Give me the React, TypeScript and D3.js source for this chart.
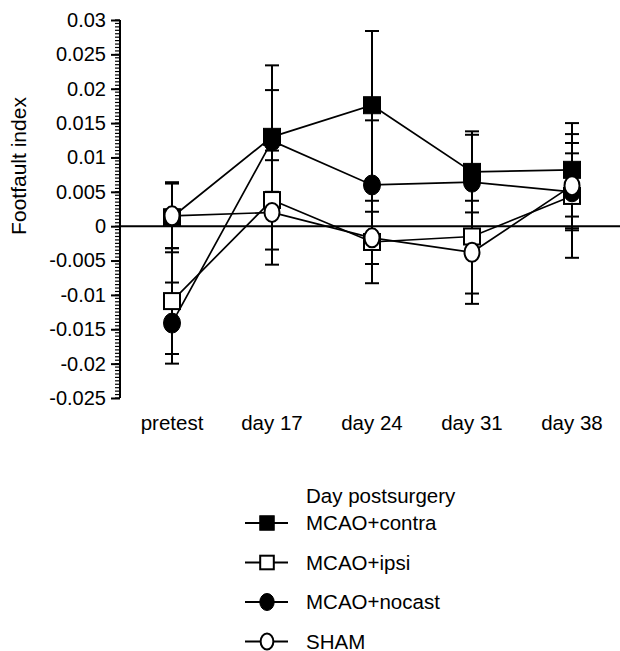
import React, { useEffect, useRef } from "react";
import * as d3 from "d3";

const days = ["pretest", "day 17", "day 24", "day 31", "day 38"];

const contraMean = [0.0013, 0.013, 0.0176, 0.0079, 0.0082];
const contraErr = [0.0051, 0.0104, 0.0108, 0.0059, 0.0068];
const ipsiMean = [-0.0109, 0.0038, -0.0023, -0.0015, 0.0044];
const ipsiErr = [0.0077, 0.0072, 0.006, 0.0083, 0.009];
const nocastMean = [-0.0141, 0.0124, 0.006, 0.0064, 0.005];
const nocastErr = [0.0059, 0.0074, 0.0094, 0.0069, 0.0056];
const shamMean = [0.0015, 0.002, -0.0017, -0.0038, 0.0059];
const shamErr = [0.0047, 0.0076, 0.0038, 0.0075, 0.0062];

const yTicks = [0.03, 0.025, 0.02, 0.015, 0.01, 0.005, 0, -0.005, -0.01, -0.015, -0.02, -0.025];

// marker: "sq" square, "ci" ellipse; filled or open
const series = [
  { name: "MCAO+contra", mean: contraMean, err: contraErr, shape: "sq", filled: true },
  { name: "MCAO+ipsi", mean: ipsiMean, err: ipsiErr, shape: "sq", filled: false },
  { name: "MCAO+nocast", mean: nocastMean, err: nocastErr, shape: "ci", filled: true },
  { name: "SHAM", mean: shamMean, err: shamErr, shape: "ci", filled: false },
];
const drawOrder = [1, 2, 0, 3];

const W = 620;
const H = 651;
const font = "'Liberation Sans', Arial, Helvetica, sans-serif";

function drawMarker(g: any, shape: string, filled: boolean, x: number, y: number, s: number) {
  if (shape === "sq") {
    const size = filled ? 17 * s : 16 * s;
    g.append("rect")
      .attr("x", x - size / 2)
      .attr("y", y - size / 2)
      .attr("width", size)
      .attr("height", size)
      .attr("fill", filled ? "#000" : "#fff")
      .attr("stroke", "#000")
      .attr("stroke-width", filled ? 1 : 2);
  } else {
    g.append("ellipse")
      .attr("cx", x)
      .attr("cy", y)
      .attr("rx", (filled ? 8.5 : 7.5) * s)
      .attr("ry", (filled ? 10 : 9.5) * s)
      .attr("fill", filled ? "#000" : "#fff")
      .attr("stroke", "#000")
      .attr("stroke-width", filled ? 1 : 2);
  }
}

export default function App() {
  const ref = useRef<SVGSVGElement>(null);

  useEffect(() => {
    const svg = d3.select(ref.current);
    svg.selectAll("*").remove();

    const x = d3.scalePoint().domain(days).range([172, 572]);
    const y = d3.scaleLinear().domain([-0.025, 0.03]).range([398, 20]);
    const axisX = 120;

    // minor ticks
    const minor = d3.range(-0.025, 0.03 + 1e-9, 0.0005);
    svg
      .append("g")
      .selectAll("line")
      .data(minor)
      .enter()
      .append("line")
      .attr("x1", axisX - 5)
      .attr("x2", axisX)
      .attr("y1", (d) => y(d))
      .attr("y2", (d) => y(d))
      .attr("stroke", "#000")
      .attr("stroke-width", 1.2);

    // major axis
    const yAxis = d3
      .axisLeft(y)
      .tickValues(yTicks)
      .tickSize(9)
      .tickPadding(5)
      .tickFormat((d) => String(+d));
    const ag = svg.append("g").attr("transform", `translate(${axisX},0)`).call(yAxis);
    ag.select(".domain").attr("stroke-width", 2).attr("d", `M0,${y(0.03)}V${y(-0.025)}`);
    ag.selectAll(".tick line").attr("stroke-width", 2);
    ag.selectAll(".tick text")
      .attr("font-family", font)
      .attr("font-size", 20)
      .attr("fill", "#000");

    // zero line
    svg
      .append("line")
      .attr("x1", axisX)
      .attr("x2", W)
      .attr("y1", y(0))
      .attr("y2", y(0))
      .attr("stroke", "#000")
      .attr("stroke-width", 2);

    // y label
    svg
      .append("text")
      .attr("transform", `translate(26,${(y(0.03) + y(-0.025)) / 2 - 43}) rotate(-90)`)
      .attr("text-anchor", "middle")
      .attr("font-family", font)
      .attr("font-size", 21)
      .text("Footfault index");

    // x labels
    svg
      .append("g")
      .selectAll("text")
      .data(days)
      .enter()
      .append("text")
      .attr("x", (d) => x(d)!)
      .attr("y", 430)
      .attr("text-anchor", "middle")
      .attr("font-family", font)
      .attr("font-size", 20.5)
      .text((d) => d);

    // connecting lines
    const line = d3
      .line<number>()
      .x((_, i) => x(days[i])!)
      .y((d) => y(d));
    series.forEach((s) => {
      svg
        .append("path")
        .attr("d", line(s.mean))
        .attr("fill", "none")
        .attr("stroke", "#000")
        .attr("stroke-width", 1.7);
    });

    // error bars
    const eb = svg.append("g").attr("stroke", "#000").attr("stroke-width", 2);
    series.forEach((s) => {
      s.mean.forEach((m, i) => {
        const cx = x(days[i])!;
        const top = y(m + s.err[i]);
        const bot = y(m - s.err[i]);
        eb.append("line").attr("x1", cx).attr("x2", cx).attr("y1", top).attr("y2", bot);
        eb.append("line").attr("x1", cx - 7).attr("x2", cx + 7).attr("y1", top).attr("y2", top);
        eb.append("line").attr("x1", cx - 7).attr("x2", cx + 7).attr("y1", bot).attr("y2", bot);
      });
    });

    // markers
    const mg = svg.append("g");
    drawOrder.forEach((k) => {
      const s = series[k];
      s.mean.forEach((m, i) => drawMarker(mg, s.shape, s.filled, x(days[i])!, y(m), 1));
    });

    // legend
    svg
      .append("text")
      .attr("x", 306)
      .attr("y", 503)
      .attr("font-family", font)
      .attr("font-size", 20.5)
      .text("Day postsurgery");
    series.forEach((s, i) => {
      const base = 530 + i * 39.5;
      const cy = base - 7;
      const lg = svg.append("g");
      lg.append("line")
        .attr("x1", 245)
        .attr("x2", 288)
        .attr("y1", cy)
        .attr("y2", cy)
        .attr("stroke", "#000")
        .attr("stroke-width", 2);
      drawMarker(lg, s.shape, s.filled, 267, cy, 0.85);
      lg.append("text")
        .attr("x", 306)
        .attr("y", base)
        .attr("font-family", font)
        .attr("font-size", 20.5)
        .text(s.name);
    });
  }, []);

  return (
    <svg
      ref={ref}
      width={W}
      height={H}
      style={{ position: "absolute", left: 0, top: 0, background: "#fff" }}
    />
  );
}
